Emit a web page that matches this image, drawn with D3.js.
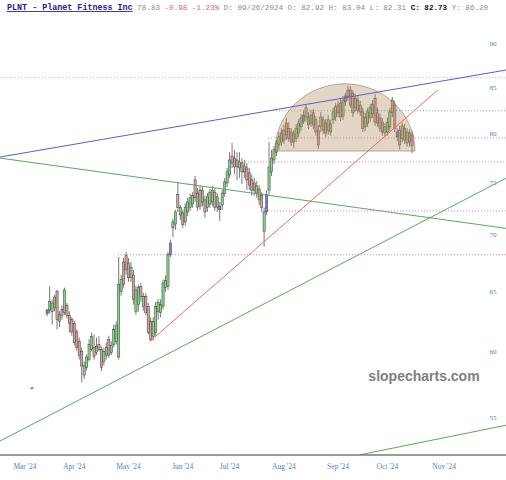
<!DOCTYPE html>
<html>
<head>
<meta charset="utf-8">
<script src="https://cdn.jsdelivr.net/npm/d3@7/dist/d3.min.js"></script>
<style>
  html, body { margin: 0; padding: 0; background: #fff; }
  svg { display: block; }
</style>
</head>
<body>
<svg id="chart"></svg>
<script>
// daily candles, first one is 2024-03-14
var firstDay = "2024-03-14";
var opens = [
  63.1, 63.4, 63.3, 63.6, 65.0, 62.45, 63.45, 63.2, 63.8, 62.95,
  62.6, 62.3, 61.6, 60.85, 60.05, 58.2, 58.8, 59.4, 60.2, 60.35,
  59.95, 60.6, 60.2, 59.25, 59.75, 61.0, 59.95, 60.6, 60.85, 59.6,
  64.95, 67.55, 68.1, 67.45, 66.15, 66.4, 63.3, 63.85, 65.4, 63.7,
  64.55, 63.7, 62.45, 61.25, 61.55, 63.25, 63.2, 63.7, 65.3, 65.4,
  68.2, 70.65, 71.0, 73.8, 71.85, 72.05, 71.2, 72.15, 72.6, 72.9,
  75.25, 73.95, 72.7, 74.25, 73.3, 72.55, 72.9, 74.25, 72.6, 73.6,
  72.35, 72.8, 73.95, 74.95, 75.75, 77.65, 77.45, 77.25, 76.45, 76.95,
  76.05, 76.45, 75.95, 75.25, 74.95, 73.95, 74.35, 73.7, 70.3, 72.15,
  74.25, 76.05, 77.25, 78.05, 78.8, 80.05, 79.3, 81.1, 80.55, 80.15,
  79.1, 79.5, 80.05, 80.7, 81.3, 82.75, 80.9, 81.1, 82.2, 81.45,
  80.35, 80.7, 81.45, 81.1, 80.35, 80.15, 81.45, 81.75, 83.05, 83.25,
  81.85, 83.4, 84.7, 84.7, 84.35, 82.75, 83.6, 83.05, 82.3, 80.7,
  81.1, 81.65, 82.1, 83.8, 82.2, 81.65, 81.2, 80.05, 80.15, 80.7,
  83.6, 83.05, 79.65, 80.35, 79.5, 80.55, 79.0, 80.05, 79.85
];
var highs = [
  63.5, 65.4, 64.3, 64.7, 65.1, 63.3, 63.8, 65.3, 64.0, 63.3,
  62.8, 62.5, 61.8, 61.15, 60.35, 59.25, 59.8, 61.0, 61.55, 61.4,
  61.15, 61.25, 60.45, 60.35, 60.75, 61.3, 60.85, 62.2, 62.45, 68.0,
  66.4, 67.9, 68.45, 67.9, 67.55, 66.85, 65.45, 65.55, 65.7, 64.85,
  64.85, 64.0, 62.8, 62.8, 64.1, 64.35, 64.3, 66.0, 66.35, 68.45,
  69.55, 71.5, 72.35, 75.05, 72.8, 72.35, 73.0, 73.5, 73.9, 74.05,
  75.65, 74.45, 74.65, 74.65, 73.7, 73.95, 74.35, 74.65, 74.45, 73.95,
  73.1, 74.25, 75.45, 76.45, 78.05, 79.0, 78.3, 78.05, 78.05, 77.45,
  77.25, 76.95, 76.45, 75.75, 75.45, 75.15, 74.75, 74.05, 72.55, 74.25,
  79.1, 78.3, 78.7, 79.3, 80.15, 80.55, 80.9, 81.65, 81.2, 80.55,
  80.35, 81.0, 81.55, 82.1, 82.4, 83.15, 82.3, 82.5, 82.6, 81.85,
  80.9, 82.3, 81.85, 81.55, 81.95, 81.45, 82.75, 83.25, 83.5, 83.7,
  84.05, 84.35, 85.15, 85.15, 84.7, 84.25, 84.05, 83.5, 82.75, 82.2,
  82.75, 83.15, 83.6, 84.25, 82.75, 82.1, 81.65, 81.1, 81.65, 82.75,
  83.95, 83.5, 80.55, 80.8, 81.2, 81.0, 80.55, 80.45, 80.25
];
var lows = [
  62.9, 63.1, 62.2, 63.3, 61.8, 62.0, 62.6, 63.0, 62.7, 61.55,
  61.3, 60.5, 60.1, 59.4, 57.65, 57.9, 58.55, 59.25, 60.05, 59.4,
  59.75, 60.05, 58.5, 58.95, 59.4, 59.55, 59.75, 60.35, 60.6, 59.4,
  64.6, 65.3, 66.4, 65.8, 65.8, 63.85, 63.0, 63.25, 64.1, 63.35,
  62.95, 61.4, 60.85, 60.9, 61.3, 62.6, 62.8, 63.45, 64.95, 65.1,
  68.0, 69.8, 70.45, 72.15, 71.4, 70.65, 70.85, 71.75, 72.25, 72.55,
  73.1, 72.25, 72.35, 72.7, 71.6, 72.15, 72.55, 72.7, 72.25, 72.15,
  71.3, 72.35, 73.6, 74.55, 75.45, 76.45, 75.85, 75.25, 75.45, 74.85,
  75.45, 74.25, 74.25, 73.7, 73.7, 73.5, 72.8, 72.15, 68.9, 71.85,
  73.8, 75.65, 76.85, 77.65, 78.3, 78.7, 78.9, 79.3, 79.1, 78.7,
  78.5, 79.1, 79.65, 80.25, 81.0, 81.2, 80.45, 80.7, 80.45, 79.75,
  78.4, 80.15, 79.95, 79.65, 79.85, 79.75, 81.0, 81.3, 81.75, 81.3,
  81.45, 82.95, 83.5, 82.75, 81.75, 82.3, 82.1, 81.85, 80.15, 80.25,
  80.7, 81.2, 81.65, 80.8, 80.7, 80.15, 79.75, 79.65, 79.75, 80.25,
  81.75, 80.15, 79.2, 78.3, 79.1, 78.9, 78.6, 78.6, 77.95
];
var closes = [
  63.4, 64.1, 64.0, 64.5, 62.6, 63.0, 62.95, 65.1, 62.95, 62.3,
  61.6, 60.75, 60.35, 59.75, 58.9, 58.9, 59.6, 60.6, 61.25, 59.65,
  60.45, 60.2, 58.8, 60.05, 60.35, 59.75, 60.5, 61.8, 62.1, 65.55,
  66.0, 65.55, 66.85, 66.15, 67.05, 64.3, 65.1, 65.3, 64.55, 64.55,
  63.2, 61.55, 61.0, 62.45, 63.7, 64.05, 63.85, 65.7, 65.9, 68.2,
  69.25, 71.2, 72.15, 72.55, 72.55, 70.95, 72.6, 73.1, 73.5, 73.7,
  73.5, 72.6, 74.25, 73.1, 72.15, 73.6, 74.05, 73.1, 74.05, 72.6,
  72.7, 73.95, 75.05, 76.05, 77.25, 76.95, 76.55, 76.55, 77.05, 76.05,
  76.65, 75.25, 74.75, 74.25, 74.25, 74.65, 73.3, 72.55, 72.15, 73.8,
  76.55, 77.45, 78.3, 79.0, 79.65, 79.1, 80.35, 79.85, 79.5, 79.1,
  79.95, 80.55, 81.1, 81.65, 81.95, 81.75, 81.75, 81.95, 80.9, 80.15,
  78.8, 81.75, 80.35, 80.05, 81.45, 81.0, 82.3, 82.85, 82.2, 81.75,
  83.6, 84.05, 83.95, 83.05, 82.2, 83.8, 82.5, 82.3, 80.55, 81.75,
  82.3, 82.75, 83.15, 81.2, 81.1, 80.55, 80.15, 80.7, 81.2, 82.3,
  82.2, 80.55, 80.15, 78.8, 80.8, 79.3, 80.15, 79.1, 78.7
];
// candles drawn blue (position in the list above)
var blueCandles = [0, 50, 70, 89, 104, 121, 142];

var yTicks = [55, 60, 65, 70, 75, 80, 85, 90];
var monthLabels = ["Mar '24", "Apr '24", "May '24", "Jun '24", "Jul '24", "Aug '24", "Sep '24", "Oct '24", "Nov '24"];
var holidays = ["2024-03-29", "2024-05-27", "2024-06-19", "2024-07-04", "2024-09-02", "2024-11-28", "2024-12-25"];

// drawn studies, in trading-day index (0 = 2024-03-01) and price
var trendLines = [
  { i1: -10.2, p1: 77.55, i2: 195.2, p2: 86.97, color: "#5b5bd6" },
  { i1: -10.2, p1: 77.45, i2: 195.2, p2: 70.6, color: "#5aa85a" },
  { i1: -10.2, p1: 53.35, i2: 195.2, p2: 75.43, color: "#5aa85a" },
  { i1: 135.9, p1: 52.4, i2: 195.2, p2: 54.48, color: "#5aa85a" },
  { i1: 50.7, p1: 60.85, i2: 167.5, p2: 84.71, color: "#ef6a5a" }
];
var levelLines = [
  { from: -10.2, price: 86.1, color: "#d9a6cf" },
  { from: 99.4, price: 82.43, color: "#6cbf6c" },
  { from: 98.6, price: 79.52, color: "#e070d8" },
  { from: 85.6, price: 77.05, color: "#e070d8" },
  { from: 98.6, price: 72.24, color: "#e070d8" },
  { from: 37.7, price: 68.19, color: "#e070d8" }
];
var dome = { left: 101.4, right: 158.2, base: 78.17, top: 85.4 };
var markers = [{ i: 2.8, price: 57.2 }];

var W = 506, H = 480;
var axisY = 455;

// trading calendar
function tradingDays() {
  var out = [];
  var fmt = d3.utcFormat("%Y-%m-%d");
  d3.utcDays(new Date(Date.UTC(2024, 2, 1)), new Date(Date.UTC(2025, 0, 1))).forEach(function(d) {
    var wd = d.getUTCDay();
    if (wd === 0 || wd === 6) return;
    if (holidays.indexOf(fmt(d)) >= 0) return;
    out.push(fmt(d));
  });
  return out;
}
var days = tradingDays();
var startIdx = days.indexOf(firstDay);

var x = d3.scaleLinear().domain([0, 195]).range([25, 505.7]);
var y = d3.scaleLog().domain([55, 90]).range([418, 44]);

var svg = d3.select("#chart").attr("width", W).attr("height", H);
svg.append("rect").attr("width", W).attr("height", H).attr("fill", "#fff");

svg.append("defs").append("clipPath").attr("id", "plot-clip")
  .append("rect").attr("x", 0).attr("y", 14).attr("width", W).attr("height", axisY - 14);

var plot = svg.append("g").attr("clip-path", "url(#plot-clip)");

// y tick labels sit inside the plot on the right
svg.append("g").selectAll("text")
  .data(yTicks)
  .enter().append("text")
  .attr("x", 493)
  .attr("y", function(d) { return y(d); })
  .attr("dy", "0.35em")
  .attr("text-anchor", "middle")
  .attr("font-family", "Liberation Serif, serif")
  .attr("font-size", "7px")
  .attr("fill", "#4f86bd")
  .text(function(d) { return d; });

// horizontal levels
plot.selectAll(".level")
  .data(levelLines)
  .enter().append("line")
  .attr("x1", function(d) { return x(d.from); })
  .attr("x2", W)
  .attr("y1", function(d) { return y(d.price); })
  .attr("y2", function(d) { return y(d.price); })
  .attr("stroke", function(d) { return d.color; })
  .attr("stroke-width", 1)
  .attr("stroke-dasharray", "1,2");

// candles
var candles = d3.range(opens.length).map(function(i) {
  var color = closes[i] >= opens[i] ? "up" : "down";
  if (blueCandles.indexOf(i) >= 0) color = "blue";
  return { idx: startIdx + i, o: opens[i], h: highs[i], l: lows[i], c: closes[i], color: color };
});
var fills = { up: "#86d486", down: "#d9a0a0", blue: "#7d7df2" };

var cg = plot.append("g");
cg.selectAll(".wick")
  .data(candles)
  .enter().append("line")
  .attr("x1", function(d) { return x(d.idx); })
  .attr("x2", function(d) { return x(d.idx); })
  .attr("y1", function(d) { return y(d.h); })
  .attr("y2", function(d) { return y(d.l); })
  .attr("stroke", "#555")
  .attr("stroke-width", 0.8);

cg.selectAll(".body")
  .data(candles)
  .enter().append("rect")
  .attr("x", function(d) { return x(d.idx) - 1.1; })
  .attr("width", 2.2)
  .attr("y", function(d) { return y(Math.max(d.o, d.c)); })
  .attr("height", function(d) { return Math.max(1, y(Math.min(d.o, d.c)) - y(Math.max(d.o, d.c))); })
  .attr("fill", function(d) { return fills[d.color]; })
  .attr("stroke", "#3a3a3a")
  .attr("stroke-width", 0.5);

// small marker near the left edge
plot.selectAll(".marker")
  .data(markers)
  .enter().append("rect")
  .attr("x", function(d) { return x(d.i) - 1.5; })
  .attr("y", function(d) { return y(d.price) - 1; })
  .attr("width", 3)
  .attr("height", 2)
  .attr("fill", "#7d7df2");

// half-ellipse study over the top
var dl = x(dome.left), dr = x(dome.right), db = y(dome.base), dt = y(dome.top);
plot.append("path")
  .attr("d", "M" + dl + "," + db + " A" + ((dr - dl) / 2) + "," + (db - dt) + " 0 0 1 " + dr + "," + db + " Z")
  .attr("fill", "rgba(180,140,95,0.36)")
  .attr("stroke", "rgba(140,110,80,0.7)")
  .attr("stroke-width", 0.8);

// trend lines
plot.selectAll(".trend")
  .data(trendLines)
  .enter().append("line")
  .attr("x1", function(d) { return x(d.i1); })
  .attr("y1", function(d) { return y(d.p1); })
  .attr("x2", function(d) { return x(d.i2); })
  .attr("y2", function(d) { return y(d.p2); })
  .attr("stroke", function(d) { return d.color; })
  .attr("stroke-width", 1);

// watermark
svg.append("text")
  .attr("x", 424)
  .attr("y", 381)
  .attr("text-anchor", "middle")
  .attr("font-family", "Liberation Sans, Arial, sans-serif")
  .attr("font-weight", "bold")
  .attr("font-size", "14px")
  .attr("fill", "#7f7f7f")
  .text("slopecharts.com");

// bottom axis
svg.append("line")
  .attr("x1", 0).attr("x2", W)
  .attr("y1", axisY).attr("y2", axisY)
  .attr("stroke", "#7a7a7a")
  .attr("stroke-width", 1.5);

var monthStarts = [];
days.forEach(function(d, i) {
  if (i === 0 || d.slice(0, 7) !== days[i - 1].slice(0, 7)) monthStarts.push(i);
});
svg.append("g").selectAll("text")
  .data(monthLabels)
  .enter().append("text")
  .attr("x", function(d, k) { return x(monthStarts[k]); })
  .attr("y", 469)
  .attr("text-anchor", "middle")
  .attr("font-family", "Liberation Serif, serif")
  .attr("font-size", "7.5px")
  .attr("fill", "#4f86bd")
  .text(function(d) { return d; });

// header line
var header = svg.append("text")
  .attr("x", 7)
  .attr("y", 10)
  .attr("font-family", "Liberation Mono, monospace")
  .attr("font-size", "7.6px")
  .attr("xml:space", "preserve");
header.append("tspan")
  .attr("fill", "#1d1d8f")
  .attr("font-weight", "bold")
  .attr("font-size", "8.4px")
  .attr("text-decoration", "underline")
  .text("PLNT - Planet Fitness Inc");
header.append("tspan").attr("fill", "#8a8a8a").text(" 78.83 ");
header.append("tspan").attr("fill", "#e06464").text("-0.98 -1.23%");
header.append("tspan").attr("fill", "#8a8a8a").text(" D: 09/26/2024 O: 82.92 H: 83.04 L: 82.31 ");
header.append("tspan").attr("fill", "#111").attr("font-weight", "bold").text("C: 82.73");
header.append("tspan").attr("fill", "#8a8a8a").text(" Y: 86.20");
</script>
</body>
</html>
